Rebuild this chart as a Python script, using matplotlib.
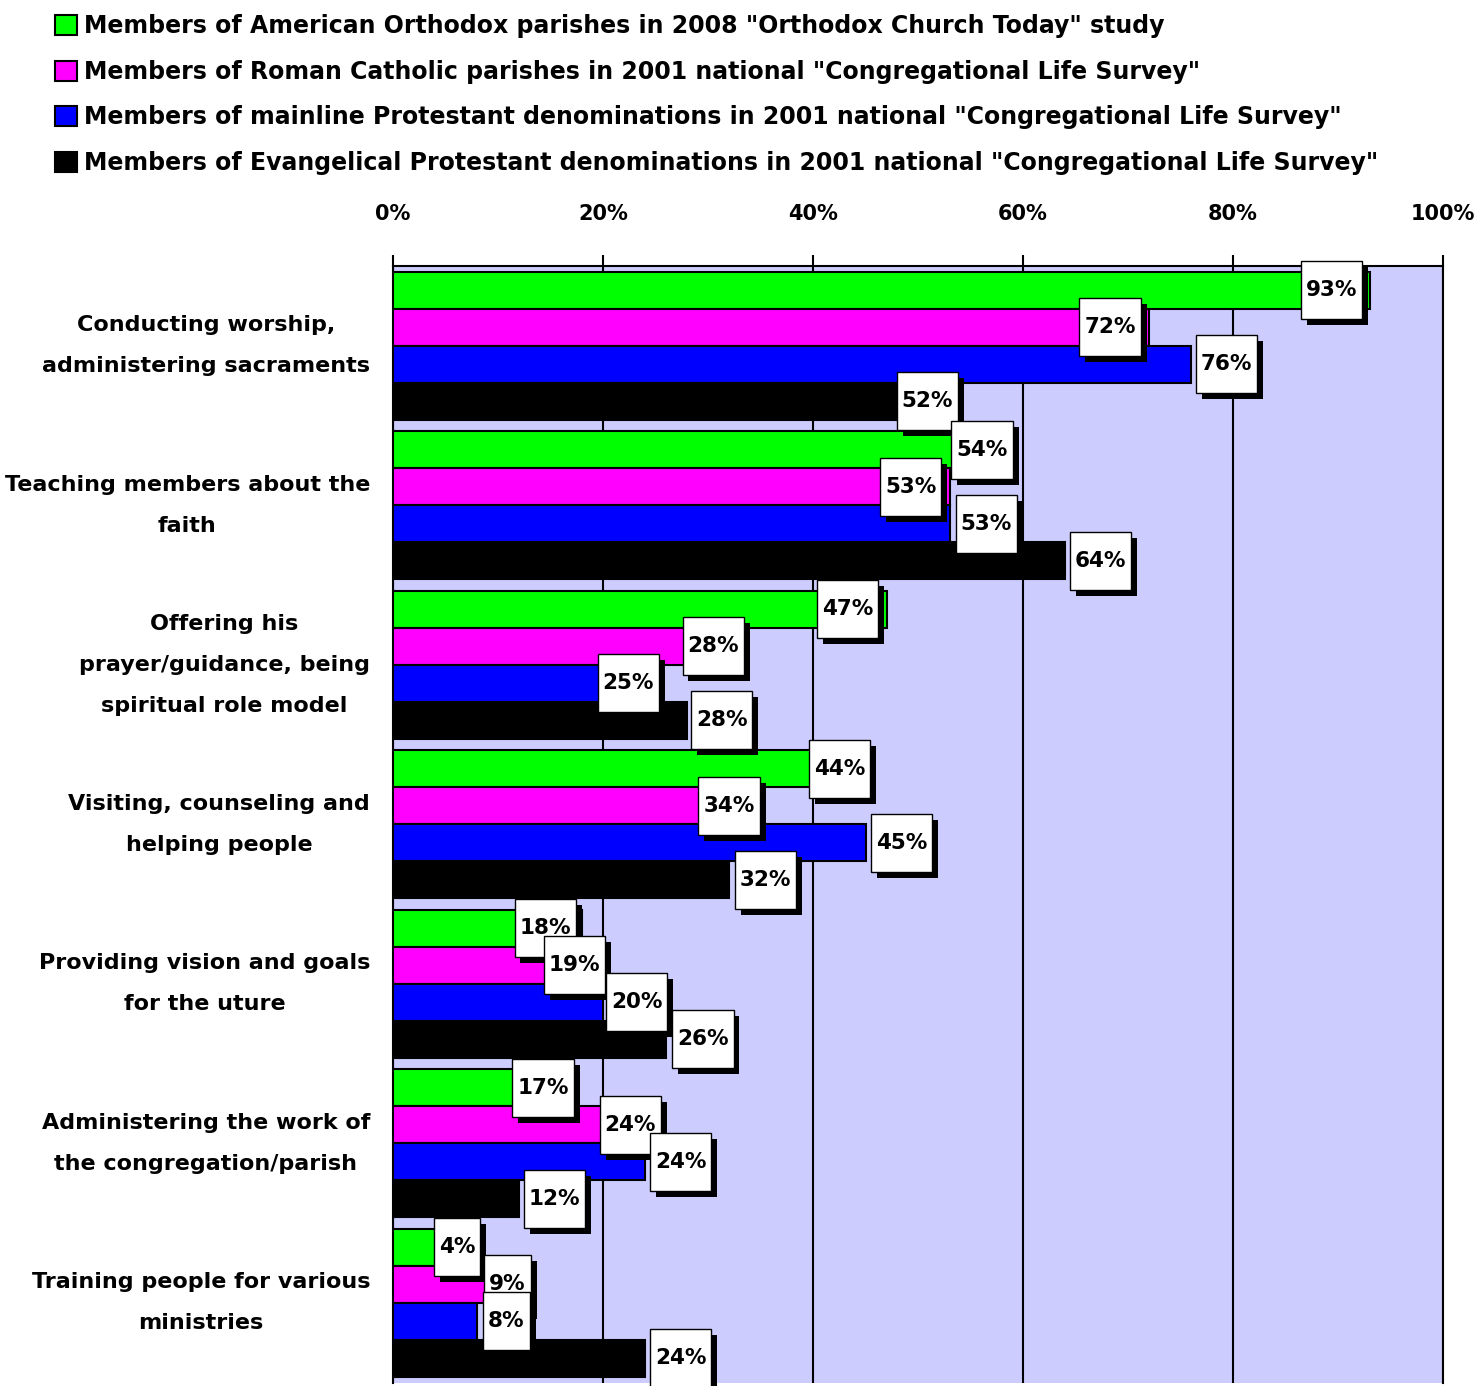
import numpy as np
import matplotlib
matplotlib.use("Agg")
import matplotlib.pyplot as plt
from matplotlib.patches import Patch
from matplotlib.path import Path
import matplotlib.patheffects as pe

# data (percent)
categories = [
    "Conducting worship,\nadministering sacraments",
    "Teaching members about the\nfaith",
    "Offering his\nprayer/guidance, being\nspiritual role model",
    "Visiting, counseling and\nhelping people",
    "Providing vision and goals\nfor the uture",
    "Administering the work of\nthe congregation/parish",
    "Training people for various\nministries",
]
series_names = [
    'Members of American Orthodox parishes in 2008 "Orthodox Church Today" study',
    'Members of Roman Catholic parishes in 2001 national "Congregational Life Survey"',
    'Members of mainline Protestant denominations in 2001 national "Congregational Life Survey"',
    'Members of Evangelical Protestant denominations in 2001 national "Congregational Life Survey"',
]
orthodox = [93, 54, 47, 44, 18, 17, 4]
catholic = [72, 53, 28, 34, 19, 24, 9]
mainline = [76, 53, 25, 45, 20, 24, 8]
evangelical = [52, 64, 28, 32, 26, 12, 24]

# label placement tweaks (in % units, label centre minus value), as in the original
shift_orthodox = [-3.6, 2.1, -3.7, -1.5, -3.5, -2.7, 2.1]
shift_catholic = [-3.7, -3.7, 2.5, -2.0, -1.7, -1.4, 1.9]
shift_mainline = [3.4, 3.5, -2.6, 3.4, 3.2, 3.4, 2.8]
shift_evangelical = [-1.1, 3.4, 3.3, 3.5, 3.5, 3.4, 3.4]

colors = ["#00FF00", "#FF00FF", "#0000FF", "#000000"]
values = [orthodox, catholic, mainline, evangelical]
shifts = [shift_orthodox, shift_catholic, shift_mainline, shift_evangelical]

plt.rcParams["font.family"] = ["DejaVu Sans"]
plt.rcParams["font.weight"] = "bold"

W, H = 1480, 1386
fig = plt.figure(figsize=(W / 100, H / 100), dpi=100)
top_px, bot_px = 266, 1382.5
ax = fig.add_axes([393 / W, 1 - bot_px / H, 1050 / W, (bot_px - top_px) / H])
ax.set_facecolor("#CCCCFF")

n = len(categories)
bar_h = 0.232
centers = np.arange(n) + 0.5

for j, (vals, col) in enumerate(zip(values, colors)):
    y = centers + (j - 1.5) * bar_h
    ax.barh(y, vals, height=bar_h, color=col, edgecolor="black",
            linewidth=1.5, zorder=3)


def label_box(x0, y0, width, height, mutation_size):
    # fixed-height box, tight horizontal padding (display pixels)
    padx, h = 5, 58
    cy = y0 + height / 2
    verts = [(x0 - padx, cy - h / 2), (x0 + width + padx, cy - h / 2),
             (x0 + width + padx, cy + h / 2), (x0 - padx, cy + h / 2),
             (x0 - padx, cy - h / 2)]
    return Path(verts, closed=True)


shadow = [pe.SimplePatchShadow(offset=(4.3, -4.3), shadow_rgbFace="black", alpha=1.0),
          pe.Normal()]
z = 10
for i in range(n):
    for j in range(4):
        v = values[j][i]
        x = v + shifts[j][i]
        y = centers[i] + (j - 1.5) * bar_h
        t = ax.text(x, y, f"{v}%", ha="center", va="center", fontsize=15.5,
                    fontweight="bold", color="black", zorder=z,
                    bbox=dict(boxstyle=label_box, fc="white", ec="black", lw=1))
        t.get_bbox_patch().set_path_effects(shadow)
        z += 1

ax.set_xlim(0, 100)
ax.set_ylim(n, 0)
ax.set_xticks(np.arange(0, 101, 20))
ax.set_xticklabels([f"{t}%" for t in range(0, 101, 20)])
ax.xaxis.set_ticks_position("top")
ax.tick_params(axis="x", top=True, labeltop=True, bottom=False, labelbottom=False,
               length=8, width=1.5, pad=22, labelsize=15, color="black")
ax.set_yticks([])

# category labels, right-aligned left of the axis, lines centred
for c, name in zip(centers, categories):
    ax.annotate(name, xy=(0, c), xycoords=("axes fraction", "data"),
                xytext=(-23, 0), textcoords="offset pixels",
                ha="right", va="center", multialignment="center",
                fontsize=16, fontweight="bold", linespacing=2.3,
                annotation_clip=False)

ax.grid(axis="x", color="black", linewidth=1.5, zorder=1)
ax.set_axisbelow(True)
ax.spines["bottom"].set_visible(False)
for s in ["top", "left", "right"]:
    ax.spines[s].set_linewidth(1.5)
    ax.spines[s].set_color("black")

handles = [Patch(facecolor=c, edgecolor="black", linewidth=1.5) for c in colors]
fig.legend(handles, series_names, loc="upper left",
           bbox_to_anchor=(55 / W, 1 - 14 / H), frameon=False,
           prop={"size": 17, "weight": "bold"}, handlelength=0.93,
           handleheight=0.93, handletextpad=0.3, labelspacing=0.92,
           borderpad=0, borderaxespad=0)

fig.savefig("out.png", dpi=100)
